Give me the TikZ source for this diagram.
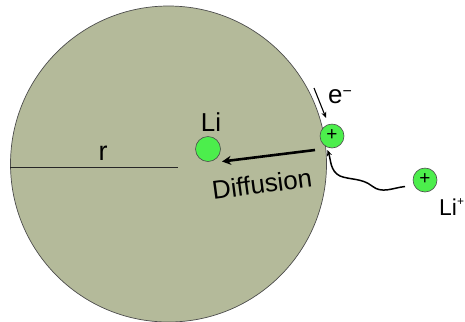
\documentclass[tikz,border=0pt]{standalone}
\usepackage{fontspec}
\setmainfont{Liberation Sans}
\usetikzlibrary{arrows.meta}
\definecolor{grain}{HTML}{B4BA9A}
\definecolor{atom}{HTML}{4CEE4C}
\tikzset{
  atomstyle/.style={circle, draw=black!70, line width=0.6pt, fill=atom, minimum size=#1, inner sep=0pt},
  lbl/.style={inner sep=0pt, anchor=base},
  plus/.style={font=\fontsize{19}{20}\selectfont, inner sep=0pt},
}
\begin{document}
\begin{tikzpicture}[x=1bp,y=-1bp]
\useasboundingbox (0,0) rectangle (465,321);
\clip (0,0) rectangle (465,321);
% grain
\node[circle, draw=black!70, line width=0.7pt, fill=grain, minimum size=316bp, inner sep=0pt] (grain) at (168.5,164) {};
\coordinate (rl) at (10,167);
\coordinate (rr) at (178,167);
\draw[line width=0.7pt, black!85] (rl) -- (rr);
\node[lbl, font=\fontsize{27}{30}\selectfont] (r) at (103,160) {r};
% Li atom in the grain
\node[atomstyle=25bp] (li) at (208,149) {};
\node[lbl, font=\fontsize{26}{30}\selectfont] (lilbl) at (211,131) {Li};
% surface Li+
\node[atomstyle=24bp] (surf) at (332,136) {};
\node[plus] (surfp) at (332,135) {+};
% electron
\node[lbl, font=\fontsize{26}{28}\selectfont, anchor=base west] (e) at (328,103) {e\raisebox{0.5ex}{\fontsize{16}{18}\selectfont −}};
\coordinate (ea) at (314,88);
\coordinate (eb) at (326,118);
\draw[line width=1.1pt, -{Stealth[length=6bp,width=5bp]}] (ea) -- (eb);
% diffusion arrow
\coordinate (da) at (315,150);
\coordinate (db) at (222,161.5);
\draw[line width=2.6pt, -{Stealth[length=9bp,width=9bp]}] (da) -- (db);
\node[font=\fontsize{26}{30}\selectfont, rotate=7.5, inner sep=0pt] (diff) at (262,184) {Diffusion};
% Li+ in electrolyte
\node[atomstyle=24bp] (lip) at (425,180) {};
\node[plus] (lipp) at (425,179) {+};
\node[lbl, font=\fontsize{23}{25}\selectfont, anchor=base west] (liplbl) at (439,215) {Li\raisebox{0.8ex}{\fontsize{12}{14}\selectfont +}};
% wavy path
\coordinate (w0) at (405,186.5);
\coordinate (wt) at (327.5,150);
\draw[line width=1.5pt, -{Stealth[length=6bp,width=5bp]}]
  (w0) .. controls (392,188) and (382,194) .. (372,186)
  .. controls (362,178) and (350,180) .. (340,176)
  .. controls (330,171) and (331,160) .. (wt);
\end{tikzpicture}
\end{document}
